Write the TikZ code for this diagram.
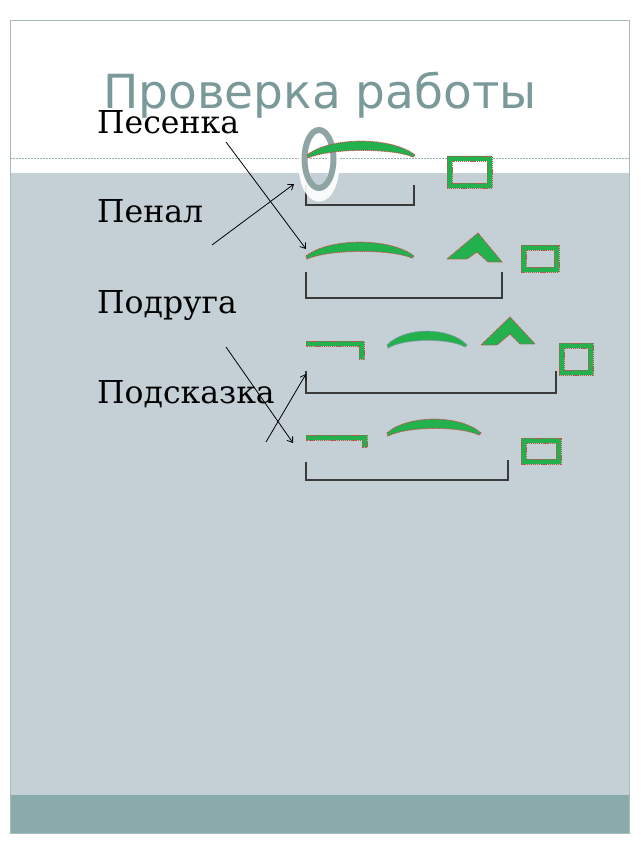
\documentclass[tikz,border=0pt]{standalone}
\usepackage{fontspec}
\setmainfont{DejaVu Serif}
\newfontfamily\titlefont{DejaVu Sans}
\usetikzlibrary{arrows.meta}
\definecolor{bodygray}{HTML}{C5D0D6}
\definecolor{bandteal}{HTML}{8AABAB}
\definecolor{frameline}{HTML}{A6BABA}
\definecolor{dashcol}{HTML}{9AAEAE}
\definecolor{titlecol}{HTML}{7A9999}
\definecolor{mgreen}{HTML}{22B14C}
\definecolor{mred}{HTML}{B8574F}
\definecolor{ringgray}{HTML}{8FA5A5}
\definecolor{bluegray}{HTML}{7F95A8}
\definecolor{brk}{HTML}{3A3A3A}
\newcommand\rkarc[4][mred]{%
  \pgfmathsetmacro\rkdw{0.22*(#3-#2)}%
  \filldraw[morph, draw=#1] (#2,#4) .. controls (#2+\rkdw,#4-18.5) and (#3-\rkdw,#4-18.5) .. (#3,#4)
    -- (#3-2,#4+2) .. controls (#3-\rkdw,#4-7) and (#2+\rkdw,#4-7) .. (#2+1,#4+3) -- cycle;}
\begin{document}
\begin{tikzpicture}[x=1pt,y=-1pt,
  morph/.style={fill=mgreen, draw=mred, line width=0.9pt, dash pattern=on 1.3pt off 0.8pt},
  bracket/.style={draw=brk, line width=1.1pt},
  link/.style={draw=black, line width=0.8pt, -{Straight Barb[length=5pt,width=7pt]}},
  word/.style={anchor=base west, font=\fontsize{31.5}{36}\selectfont, text=black, inner sep=0pt}]
\useasboundingbox (0,0) rectangle (640,853);
\fill[white] (0,0) rectangle (640,853);
% slide
\fill[bodygray] (10,173) rectangle (629,795);
\fill[bandteal] (10,795) rectangle (629,833);
\draw[frameline, line width=0.8pt] (10,20) rectangle (629,833);
\draw[dashcol, line width=1pt, dash pattern=on 2pt off 1pt] (10,159) -- (629,159);
% title
\node[anchor=base, font=\titlefont\fontsize{47}{56}\selectfont, text=titlecol, inner sep=0pt] (title) at (320,109) {Проверка работы};
% words
\node[word] (w1) at (97,134) {Песенка};
\node[word] (w2) at (97,222) {Пенал};
\node[word] (w3) at (97,313) {Подруга};
\node[word] (w4) at (97,403) {Подсказка};
% scheme 1
\draw[bracket] (306,185) -- (306,205) -- (414,205) -- (414,185);
\draw[white, line width=11pt, opacity=0.9] (319,164) ellipse (15 and 32);
\draw[ringgray, line width=6pt] (319,159) ellipse (14.5 and 29);
\rkarc{307}{415}{155}
\filldraw[morph, even odd rule] (447,156) rectangle (492,188) (452,161) rectangle (487,183);
% scheme 2
\draw[bracket] (306,272) -- (306,298) -- (502,298) -- (502,272);
\rkarc{306}{414}{256}
\filldraw[morph] (447,259) -- (478,233) -- (502,262) -- (488,262) -- (477,252) -- (467,259) -- cycle;
\filldraw[morph, even odd rule] (521,245) rectangle (559,272) (526,250) rectangle (554,267);
% scheme 3
\draw[bracket] (306,371) -- (306,393) -- (556,393) -- (556,371);
\filldraw[morph] (306,341) -- (364,341) -- (364,359) -- (359,359) -- (359,346) -- (306,346) -- cycle;
\rkarc[bluegray]{387}{467}{345}
\filldraw[morph] (481,345) -- (510,317) -- (535,344) -- (520,344) -- (510,334) -- (497,345) -- cycle;
\filldraw[morph, even odd rule] (559,343) rectangle (593,375) (564,348) rectangle (588,370);
% scheme 4
\draw[bracket] (306,462) -- (306,480) -- (508,480) -- (508,460);
\filldraw[morph] (306,435) -- (367,435) -- (367,447) -- (362,447) -- (362,440) -- (306,440) -- cycle;
\rkarc{387}{481}{433}
\filldraw[morph, even odd rule] (521,438) rectangle (561,464) (526,443) rectangle (556,459);
% connectors
\coordinate (a1s) at (226,142); \coordinate (a1e) at (306,249);
\coordinate (a2s) at (212,245); \coordinate (a2e) at (294,184);
\coordinate (a3s) at (226,347); \coordinate (a3e) at (293,443);
\coordinate (a4s) at (266,442); \coordinate (a4e) at (306,374);
\draw[link] (a1s) -- (a1e);
\draw[link] (a2s) -- (a2e);
\draw[link] (a3s) -- (a3e);
\draw[link] (a4s) -- (a4e);
\end{tikzpicture}
\end{document}
